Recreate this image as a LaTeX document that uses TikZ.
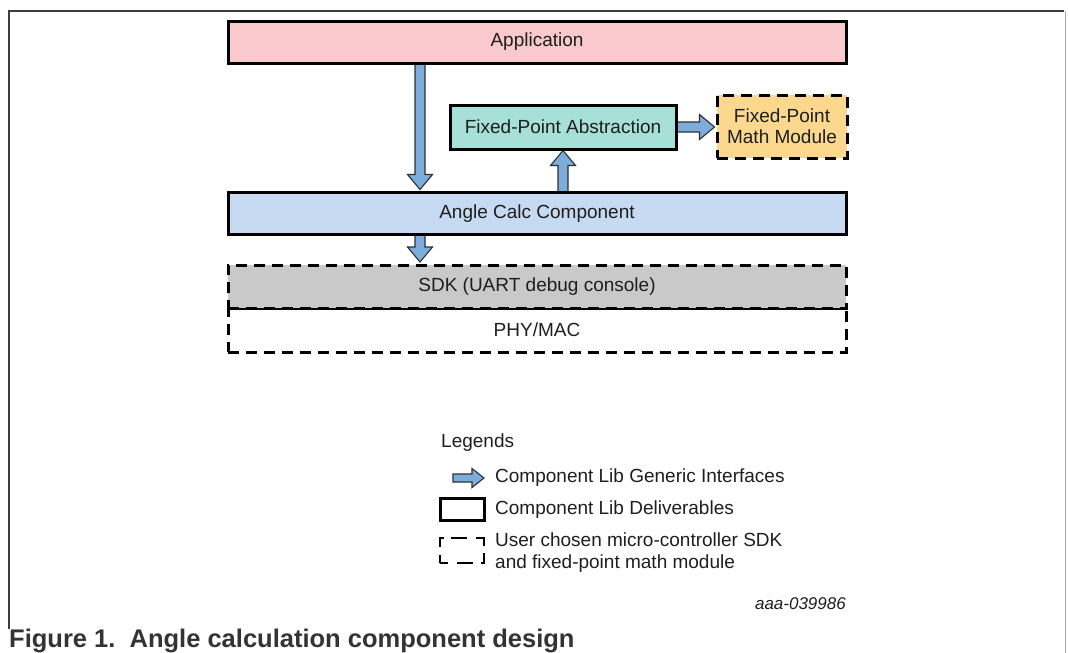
\documentclass[tikz,border=0pt]{standalone}
\usepackage{fontspec}
\setmainfont{Liberation Sans}
\usetikzlibrary{calc}
\definecolor{apppink}{HTML}{FAC9CE}
\definecolor{angleblue}{HTML}{C6DAF1}
\definecolor{fpateal}{HTML}{A6E0D8}
\definecolor{fpmmorange}{HTML}{FCD88F}
\definecolor{sdkgray}{HTML}{C9C9C9}
\definecolor{arrowblue}{HTML}{7DAEDB}
\definecolor{arrowline}{HTML}{2F2F2F}
\definecolor{txt}{HTML}{1E1E1E}
\definecolor{framedark}{HTML}{3C3C3C}
\definecolor{framelight}{HTML}{A8A8A8}
\definecolor{captxt}{HTML}{333333}
\pgfdeclarelayer{bg}
\pgfsetlayers{bg,main}
\newcommand\barrow[5]{%
  \coordinate (ba-B) at ($(#2)!#5!(#1)$);
  \path[blockarrow] ($(#1)!#3!90:(#2)$) -- ($(ba-B)!#3!-90:(#1)$) -- ($(ba-B)!#4!-90:(#1)$)
    -- (#2) -- ($(ba-B)!#4!90:(#1)$) -- ($(ba-B)!#3!90:(#1)$) -- ($(#1)!#3!-90:(#2)$) -- cycle;}
\tikzset{
  labelfont/.style={font=\fontsize{19}{23}\selectfont, text=txt},
  solidbox/.style={draw=black, line width=3pt, inner sep=0pt, outer sep=0pt, labelfont},
  dashbox/.style={solidbox, dash pattern=on 11pt off 7pt},
  blockarrow/.style={fill=arrowblue, draw=arrowline, line width=1.1pt, line join=miter},
  legtext/.style={labelfont, anchor=base west, inner sep=0pt},
}
\begin{document}
\begin{tikzpicture}[x=1pt, y=-1pt]
\useasboundingbox (0,0) rectangle (1068,653);
% frame
\draw[framedark, line width=1.3pt] (9,629) -- (9,11) -- (1064,11);
\draw[framelight, line width=1.6pt] (1065.5,11) -- (1065.5,653);

% boxes
\node[solidbox, fill=apppink, minimum width=618pt, minimum height=42pt] (app) at (537,42) {Application};
\node[solidbox, fill=angleblue, minimum width=618pt, minimum height=42pt] (angle) at (537,213.5) {Angle Calc Component};
\node[solidbox, fill=fpateal, minimum width=226pt, minimum height=44pt] (fpa) at (563,127) {Fixed-Point Abstraction};
\node[dashbox, fill=fpmmorange, minimum width=130pt, minimum height=63pt, align=center] (fpmm) at (782,126.5) {Fixed-Point\\[-2pt]Math Module};
\node[dashbox, minimum width=618pt, minimum height=44pt] (phy) at (537,330) {PHY/MAC};
\node[dashbox, fill=sdkgray, minimum width=618pt, minimum height=43pt] (sdk) at (537,286.5) {SDK (UART debug console)};

% arrows
\coordinate (cx1) at (420,0);
\coordinate (cx2) at (563,0);
\coordinate (a1s) at (app.south -| cx1);
\coordinate (a1e) at ($(angle.north -| cx1)+(0,-3)$);
\coordinate (a2s) at (angle.north -| cx2);
\coordinate (a2e) at ($(fpa.south -| cx2)+(0,1.5)$);
\coordinate (a3s) at (fpa.east);
\coordinate (a3e) at ($(fpmm.west |- fpa.east)+(-2.5,0)$);
\coordinate (a4s) at (angle.south -| cx1);
\coordinate (a4e) at ($(sdk.north -| cx1)+(0,-3)$);
\begin{pgfonlayer}{bg}
\barrow{a1s}{a1e}{5pt}{12.5pt}{15pt}
\barrow{a2s}{a2e}{5pt}{12.5pt}{15pt}
\barrow{a3s}{a3e}{5pt}{12.5pt}{15pt}
\barrow{a4s}{a4e}{5pt}{12.5pt}{15pt}
\end{pgfonlayer}

% legend
\node[legtext] (legtitle) at (441,447) {Legends};
\coordinate (la1) at (453,478);
\coordinate (la2) at (484,478);
\barrow{la1}{la2}{4pt}{9.5pt}{12pt}
\node[legtext] (leg1) at (495,482.5) {Component Lib Generic Interfaces};
\node[solidbox, minimum width=44pt, minimum height=22pt] (legbox) at (462,509) {};
\node[legtext] (leg2) at (495,514.5) {Component Lib Deliverables};
\node[solidbox, line width=2.8pt, dash pattern=on 8pt off 9pt on 16pt off 8pt on 13pt off 7pt on 16pt off 9pt on 16pt off 7pt on 13pt off 8pt on 8pt off 0pt, minimum width=44pt, minimum height=25pt] (legdash) at (462,550.5) {};
\node[legtext] (leg3) at (495,546) {User chosen micro-controller SDK};
\node[legtext] (leg4) at (495,568) {and fixed-point math module};
\node[labelfont, font=\fontsize{17}{20}\selectfont\itshape, anchor=base east, inner sep=0pt] (code) at (846,609) {aaa-039986};

% caption
\node[anchor=base west, inner sep=0pt, text=captxt, font=\fontsize{25.5}{30}\selectfont\bfseries] (caption) at (9,647.5) {Figure 1.\ \ Angle calculation component design};
\end{tikzpicture}
\end{document}
